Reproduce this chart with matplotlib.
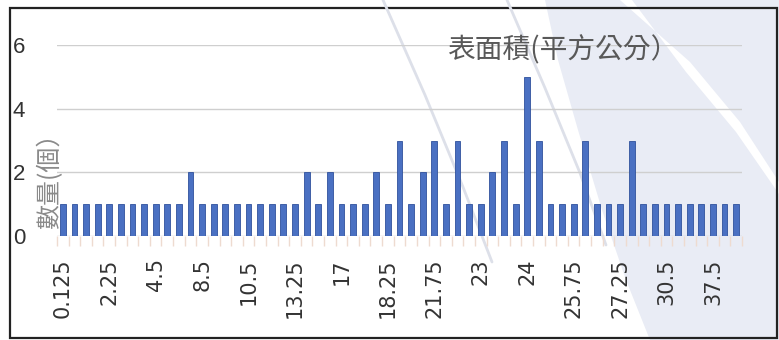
import numpy as np
import matplotlib
matplotlib.use("Agg")
import matplotlib.pyplot as plt
from matplotlib.patches import Polygon, Rectangle, PathPatch
from matplotlib.path import Path

# counts per surface-area bin (59 bins, left to right)
counts = [1, 1, 1, 1, 1, 1, 1, 1, 1, 1, 1, 2, 1, 1, 1, 1, 1, 1, 1, 1,
          1, 2, 1, 2, 1, 1, 1, 2, 1, 3, 1, 2, 3, 1, 3, 1, 1, 2, 3, 1,
          5, 3, 1, 1, 1, 3, 1, 1, 1, 3, 1, 1, 1, 1, 1, 1, 1, 1, 1]

# every fourth bin carries a category label
tick_labels = ["0.125", "2.25", "4.5", "8.5", "10.5", "13.25", "17", "18.25",
               "21.75", "23", "24", "25.75", "27.25", "30.5", "37.5"]
tick_step = 4

y_ticks = [0, 2, 4, 6]
title = "表面積(平方公分）"
y_label = "數量(個）"

W, H = 779, 340
fig = plt.figure(figsize=(W / 100, H / 100), dpi=100)

# background layer in pixel units (y downwards)
bg = fig.add_axes([0, 0, 1, 1], zorder=0)
bg.set_xlim(0, W)
bg.set_ylim(H, 0)
bg.axis("off")

lav = "#e9ecf5"
bg.add_patch(Polygon([(545, 0), (558, 60), (578, 130), (602, 210), (626, 280),
                      (650, 340), (779, 340), (779, 0)],
                     closed=True, facecolor=lav, edgecolor="none"))
# pale band across the seal
band = Path([(620, 0), (690, 62), (740, 122), (779, 182), (779, 194),
             (736, 132), (686, 72), (632, 0), (620, 0)],
            [Path.MOVETO] + [Path.LINETO] * 8)
bg.add_patch(PathPatch(band, facecolor="white", edgecolor="none"))
for pts in ([(383, 0), (425, 95), (463, 187), (492, 262)],
            [(507, 0), (545, 88), (580, 173), (606, 245)]):
    xs, ys = zip(*pts)
    bg.plot(xs, ys, color="#dde0e9", lw=2, solid_capstyle="round")

bg.add_patch(Rectangle((10, 8), 767, 330, facecolor="none",
                       edgecolor="#222222", lw=1.6))

# main chart
left, right, top, bottom = 57, 742, 45, 236
ax = fig.add_axes([left / W, (H - bottom) / H, (right - left) / W,
                   (bottom - top) / H], zorder=1)
ax.patch.set_alpha(0)

x = np.arange(len(counts))
ax.bar(x, counts, width=0.5, color="#4a70c2", edgecolor="#2f519c",
       linewidth=0.6, zorder=3)

ax.set_xlim(-0.5, len(counts) - 0.5)
ax.set_ylim(0, 6)
ax.set_yticks(y_ticks)
ax.yaxis.grid(True, color="#cfcfcf", lw=1)
ax.set_axisbelow(True)
for s in ax.spines.values():
    s.set_visible(False)

ax.tick_params(axis="y", length=0, pad=23, labelsize=16, labelcolor="#333333")
for lab in ax.get_yticklabels():
    lab.set_family("Liberation Sans")

ax.set_xticks(x[::tick_step], tick_labels, rotation=90)
ax.tick_params(axis="x", which="major", length=0, pad=16,
               labelsize=15, labelcolor="#333333")
ax.set_xticks(np.arange(-0.5, len(counts), 1), minor=True)
ax.tick_params(axis="x", which="minor", length=7, width=1, color="#eedbd0")

cjk = ["Noto Sans CJK TC", "DejaVu Sans"]
fig.text(563 / W, 1 - 50 / H, title, fontsize=20, color="#595959",
         family=cjk, ha="center", va="center", zorder=5)
fig.text(50 / W, 1 - 175 / H, y_label, fontsize=18, color="#8a8a8a",
         family=cjk, rotation=90, ha="center", va="center", zorder=5)

fig.savefig("out.png", dpi=100)
